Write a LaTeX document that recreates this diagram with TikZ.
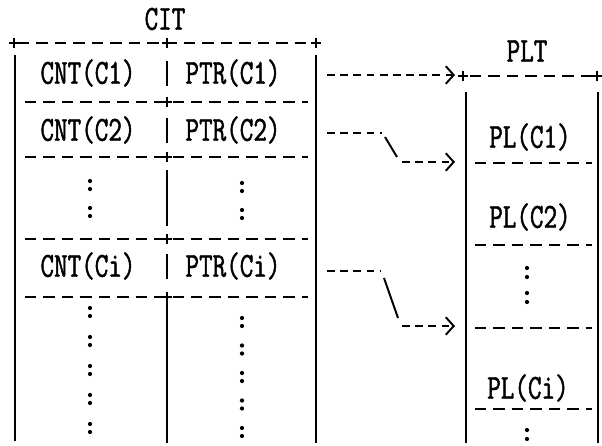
\documentclass[tikz,border=0pt]{standalone}
\usepackage{fontspec}
\usetikzlibrary{arrows.meta}
\newfontfamily\tblfont[FakeStretch=0.75,FakeBold=1.3]{Latin Modern Mono}
\tikzset{
  rule/.style={line width=1.2pt,dash pattern=on 6.5pt off 4pt},
  wall/.style={line width=1.3pt},
  ptr/.style={line width=1.1pt,dash pattern=on 4.5pt off 3pt,
    -{Straight Barb[length=4.5pt,width=10pt,line width=1.1pt]}},
  lbl/.style={font=\tblfont\fontsize{20}{22}\selectfont,inner sep=0pt},
}

\begin{document}
\begin{tikzpicture}[x=0.02cm,y=-0.02cm]
    \useasboundingbox (0,0) rectangle (602,446);
    % table titles
    \node[lbl] (cit) at (165,19) {CIT};
    \node[lbl] (plt) at (527,51) {PLT};

    % CIT entries
    \node[lbl] (cnt1) at (88,73)  {CNT(C1)};
    \node[lbl] (ptr1) at (233,73) {PTR(C1)};
    \node[lbl] (cnt2) at (88,130)  {CNT(C2)};
    \node[lbl] (ptr2) at (233,130) {PTR(C2)};
    \node[lbl] (cnti) at (88,266)  {CNT(Ci)};
    \node[lbl] (ptri) at (233,266) {PTR(Ci)};

    % PLT entries
    \node[lbl] (pl1) at (530,137) {PL(C1)};
    \node[lbl] (pl2) at (530,217) {PL(C2)};
    \node[lbl] (pli) at (528,388) {PL(Ci)};

    % CIT frame
    \draw[rule] (18,43) -- (311,43);
    \draw[wall] (15,55) -- (15,441);
    \draw[wall] (316,55) -- (316,443);
    \foreach \y in {102,157,239,297} {
      \draw[rule] (25,\y) -- (308,\y);
    }
    \foreach \x/\y in {14/43,167/43,316/43,167/102,167/157,167/239,167/297} {
      \draw[line width=1pt] (\x-5,\y) -- (\x+5,\y) (\x,\y-5) -- (\x,\y+5);
    }
    % column divider
    \foreach \a/\b in {61/86,118/143,170/226,254/279,302/443} {
      \draw[wall] (167,\a) -- (167,\b);
    }
    % elided rows
    \foreach \y in {181,208} {
      \fill (90,\y) circle (1.2pt) (90,\y+8) circle (1.2pt);
      \fill (242,\y+2) circle (1.2pt) (242,\y+10) circle (1.2pt);
    }
    \foreach \k in {0,...,4} {
      \fill (90,308+29*\k) circle (1.2pt) (90,316+29*\k) circle (1.2pt);
      \fill (242,318+27.5*\k) circle (1.2pt) (242,326+27.5*\k) circle (1.2pt);
    }

    % PLT frame
    \draw[rule] (470,76) -- (593,76);
    \foreach \x in {463,597} {
      \draw[line width=1pt] (\x-5,76) -- (\x+5,76) (\x,71) -- (\x,81);
    }
    \draw[wall] (466,92) -- (466,443);
    \draw[wall] (598,92) -- (598,443);
    \foreach \y in {163,245,328,409} {
      \draw[rule] (475,\y) -- (592,\y);
    }
    \foreach \y in {268,293,430} {
      \fill (527,\y) circle (1.2pt) (527,\y+9) circle (1.2pt);
    }

    % pointers CIT -> PLT
    \coordinate (a1) at (327,75);
    \coordinate (b1) at (455,75);
    \draw[ptr] (a1) -- (b1);

    \coordinate (a2) at (327,133);
    \coordinate (m2) at (382,133);
    \coordinate (n2) at (402,162);
    \coordinate (b2) at (455,162);
    \draw[line width=1.1pt,dash pattern=on 4.5pt off 3pt] (a2) -- (m2);
    \draw[line width=1.1pt] (385,137) -- (397,157);
    \draw[ptr] (n2) -- (b2);

    \coordinate (a3) at (327,271);
    \coordinate (m3) at (380,271);
    \coordinate (n3) at (402,326);
    \coordinate (b3) at (455,326);
    \draw[line width=1.1pt,dash pattern=on 4.5pt off 3pt] (a3) -- (m3);
    \draw[line width=1.1pt] (384,278) -- (398,318);
    \draw[ptr] (n3) -- (b3);
  \end{tikzpicture}
\end{document}
